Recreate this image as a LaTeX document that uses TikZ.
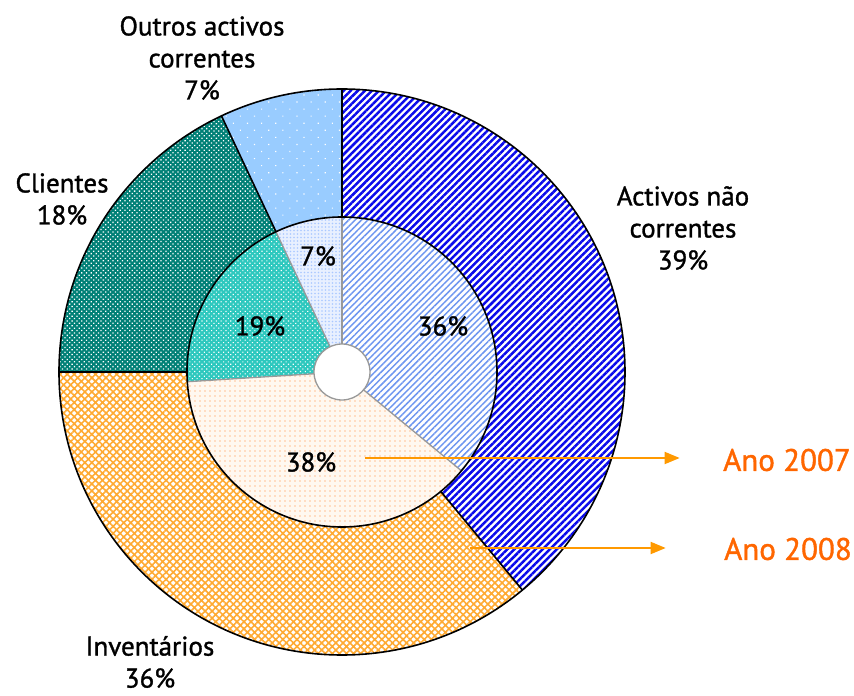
\documentclass[tikz,border=0pt]{standalone}
\usepackage{fontspec}
\setmainfont[FakeBold=1.2]{PT Sans}
\usetikzlibrary{patterns.meta,arrows.meta}
\definecolor{stripeblue}{RGB}{10,10,235}
\definecolor{paleblue}{RGB}{110,150,240}
\definecolor{weaveorange}{RGB}{255,170,50}
\definecolor{dotorange}{RGB}{255,195,150}
\definecolor{tealdark}{RGB}{0,128,118}
\definecolor{tealmid}{RGB}{45,200,190}
\definecolor{skyblue}{RGB}{153,204,255}
\definecolor{skypale}{RGB}{170,200,255}
\definecolor{arroworange}{RGB}{255,153,0}
\definecolor{textorange}{RGB}{255,102,0}
\begin{document}
\begin{tikzpicture}[x=1pt,y=1pt,
        every node/.style={font=\fontsize{27}{32}\selectfont,align=center},
        seg/.style={line width=1.6pt,line join=round},
        arr/.style={arroworange,line width=1.8pt,-{Triangle[length=15pt,width=12pt]}}]
    \useasboundingbox (-342,-324) rectangle (512,372);
    % year 2008, outer ring
    \path[fill=white,postaction={pattern={Lines[angle=45,distance=5pt,line width=2.5pt]},pattern color=stripeblue}]
        (90:283) arc[start angle=90,end angle=-50.4,radius=283] -- (-50.4:155) arc[start angle=-50.4,end angle=90,radius=155] -- cycle;
    \path[fill=white,postaction={pattern={Hatch[angle=45,distance=5pt,line width=1.6pt]},pattern color=weaveorange}]
        (-50.4:283) arc[start angle=-50.4,end angle=-180,radius=283] -- (-180:155) arc[start angle=-180,end angle=-50.4,radius=155] -- cycle;
    \path[fill=tealdark,postaction={pattern={Dots[angle=45,distance=3.4pt,radius=0.9pt]},pattern color=white}]
        (180:283) arc[start angle=180,end angle=115.2,radius=283] -- (115.2:155) arc[start angle=115.2,end angle=180,radius=155] -- cycle;
    \path[fill=skyblue,postaction={pattern={Dots[angle=45,distance=10pt,radius=0.8pt]},pattern color=white}]
        (115.2:283) arc[start angle=115.2,end angle=90,radius=283] -- (90:155) arc[start angle=90,end angle=115.2,radius=155] -- cycle;
    % year 2007, inner ring
    \path[fill=white,postaction={pattern={Lines[angle=45,distance=4.5pt,line width=1.5pt]},pattern color=paleblue}]
        (0,0) -- (90:155) arc[start angle=90,end angle=-39.6,radius=155] -- cycle;
    \path[fill={rgb,255:red,255;green,248;blue,240},postaction={pattern={Dots[distance=5pt,radius=0.9pt]},pattern color=dotorange}]
        (0,0) -- (-39.6:155) arc[start angle=-39.6,end angle=-176.4,radius=155] -- cycle;
    \path[fill=tealmid,postaction={pattern={Dots[angle=45,distance=3.4pt,radius=0.8pt]},pattern color=white}]
        (0,0) -- (183.6:155) arc[start angle=183.6,end angle=115.2,radius=155] -- cycle;
    \path[fill={rgb,255:red,232;green,240;blue,255},postaction={pattern={Dots[distance=3.5pt,radius=0.8pt]},pattern color=skypale}]
        (0,0) -- (115.2:155) arc[start angle=115.2,end angle=90,radius=155] -- cycle;
    \foreach \a in {90,-39.6,-176.4,115.2}
        \draw[black!40,line width=1.3pt] (\a:28) -- (\a:155);
    \node[circle,draw=black!40,line width=1.3pt,fill=white,minimum size=56pt,inner sep=0pt] (hole) at (0,0) {};
    % outlines of the outer ring
    \draw[seg] (0,0) circle[radius=283] (0,0) circle[radius=155];
    \foreach \a in {90,-50.4,180,115.2}
        \draw[seg] (\a:155) -- (\a:283);
    % labels
    \node (activos) at (341,144) {Activos não\\correntes\\39\%};
    \node (inventarios) at (-192,-290) {Inventários\\36\%};
    \node (clientes) at (-280,173) {Clientes\\18\%};
    \node (outros) at (-140,314) {Outros activos\\correntes\\7\%};
    \node (in36) at (101,46) {36\%};
    \node (in38) at (-31,-90) {38\%};
    \node (in19) at (-82,46) {19\%};
    \node (in7) at (-24,116) {7\%};
    \node[textorange,font=\fontsize{31}{36}\selectfont] (ano7) at (445,-88) {Ano 2007};
    \node[textorange,font=\fontsize{31}{36}\selectfont] (ano8) at (446,-177) {Ano 2008};
    \coordinate (s7) at (23,-86);
    \coordinate (s8) at (128,-176);
    \draw[arr,shorten >=40pt] (s7) -- (s7 -| ano7.west);
    \draw[arr,shorten >=55pt] (s8) -- (s8 -| ano8.west);
\end{tikzpicture}
\end{document}
